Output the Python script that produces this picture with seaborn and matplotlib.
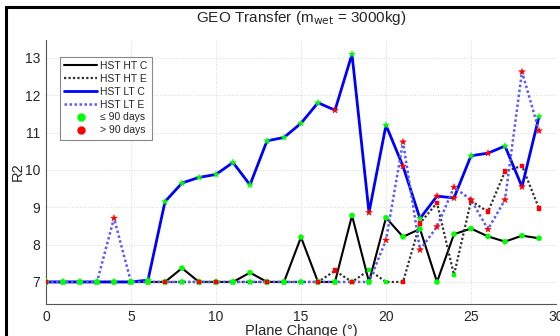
import numpy as np
import pandas as pd
import matplotlib
matplotlib.use('Agg')
import matplotlib.pyplot as plt
import seaborn as sns
from matplotlib.lines import Line2D
from matplotlib.patches import Rectangle

# plane change (deg)
plane_change = list(range(30))

# R2 values per series
ht_c = [7, 7, 7, 7, 7, 7, 7, 7, 7.37, 7, 7, 7, 7.25, 7, 7, 8.2, 7, 7, 8.78, 7,
        8.72, 8.21, 8.42, 7, 8.28, 8.43, 8.22, 8.08, 8.24, 8.17]
ht_e = [7, 7, 7, 7, 7, 7, 7, 7, 7, 7, 7, 7, 7, 7, 7, 7, 7, 7.3, 7.0, 7.32,
        7.0, 7.0, 8.57, 9.12, 7.19, 9.17, 8.88, 9.96, 10.11, 8.97]
lt_c = [7, 7, 7, 7, 7, 7, 7.05, 9.15, 9.65, 9.8, 9.88, 10.2, 9.6, 10.78, 10.87,
        11.25, 11.8, 11.6, 13.1, 8.86, 11.2, 10.1, 8.7, 9.3, 9.25, 10.38, 10.45,
        10.64, 9.55, 11.43]
lt_e = [7, 7, 7, 7, 8.71, 7, 7, 7, 7, 7, 7, 7, 7, 7, 7, 7, 7, 7, 7, 7,
        8.12, 10.75, 7.86, 8.48, 9.54, 9.2, 8.41, 9.2, 12.63, 11.05]

# 1 = transfer takes more than 90 days
ht_c_late = [0] * 30
ht_e_late = [1, 0, 0, 0, 0, 0, 0, 1, 0, 1, 1, 0, 0, 1, 0, 0, 1, 1, 1, 0,
             0, 1, 1, 1, 0, 1, 1, 1, 1, 1]
lt_c_late = [0, 0, 0, 0, 0, 0, 0, 0, 0, 0, 0, 0, 0, 0, 0, 0, 0, 1, 0, 1,
             0, 1, 0, 1, 1, 0, 1, 0, 1, 0]
lt_e_late = [0, 0, 0, 0, 1, 0, 0, 0, 0, 0, 0, 0, 0, 0, 0, 0, 0, 0, 0, 0,
             1, 1, 1, 1, 1, 1, 1, 1, 1, 1]

series_names = ['HST HT C', 'HST HT E', 'HST LT C', 'HST LT E']

df = pd.DataFrame({
    'plane': plane_change * 4,
    'R2': ht_c + ht_e + lt_c + lt_e,
    'late': ht_c_late + ht_e_late + lt_c_late + lt_e_late,
    'series': np.repeat(series_names, 30),
})

sns.set_style('white')
plt.rcParams['font.family'] = ['Liberation Sans', 'DejaVu Sans']

fig = plt.figure(figsize=(5.6, 3.36), dpi=100)
ax = fig.add_axes([46 / 560, 1 - 304 / 336, 510 / 560, 264 / 336])

line_styles = {
    'HST HT C': dict(color='black', linewidth=1.5, linestyle='-'),
    'HST HT E': dict(color='#303030', linewidth=1.6, linestyle=(0, (1, 1))),
    'HST LT C': dict(color='#0000ff', linewidth=2.0, linestyle='-'),
    'HST LT E': dict(color='#5a5aff', linewidth=1.8, linestyle=(0, (1, 1))),
}
markers = {'HST HT C': 'o', 'HST HT E': 's', 'HST LT C': '*', 'HST LT E': '*'}
marker_sizes = {'HST HT C': 14, 'HST HT E': 11, 'HST LT C': 26, 'HST LT E': 26}

for name in series_names:
    sub = df[df['series'] == name]
    sns.lineplot(data=sub, x='plane', y='R2', sort=False, ax=ax,
                 legend=False, **line_styles[name])

# markers drawn after all lines; HT E last so its red squares show on the 7 line
for name in ['HST HT C', 'HST LT C', 'HST LT E', 'HST HT E']:
    sub = df[df['series'] == name]
    cols = np.where(sub['late'] == 1, '#ff0000', '#00ff00')
    sns.scatterplot(x=sub['plane'], y=sub['R2'], marker=markers[name],
                    s=marker_sizes[name], c=cols, linewidth=0.3,
                    edgecolor=cols, ax=ax, legend=False, zorder=5)

ax.set_xlim(0, 30)
ax.set_ylim(6.41, 13.48)
ax.set_xticks([0, 5, 10, 15, 20, 25, 30])
ax.set_yticks([7, 8, 9, 10, 11, 12, 13])
ax.grid(True, color='#d8d8d8', linestyle=':', linewidth=0.7)
ax.tick_params(axis='both', labelsize=10, direction='in', length=3,
               color='#555555', pad=4)
for side in ['top', 'right']:
    ax.spines[side].set_visible(False)
for side in ['left', 'bottom']:
    ax.spines[side].set_color('#555555')
    ax.spines[side].set_linewidth(0.8)

ax.set_xlabel('Plane Change (°)', fontsize=10.5)
ax.set_ylabel('R2', fontsize=10.5)
ax.xaxis.set_label_coords(0.5, -0.075)
ax.yaxis.set_label_coords(-0.042, 0.5)

fig.text(301 / 560, 1 - 18 / 336, r'GEO Transfer (m$_{\rm wet}$ = 3000kg)',
         ha='center', va='center', fontsize=11)

handles = [
    Line2D([], [], **line_styles['HST HT C']),
    Line2D([], [], **line_styles['HST HT E']),
    Line2D([], [], **line_styles['HST LT C']),
    Line2D([], [], **line_styles['HST LT E']),
    Line2D([], [], linestyle='none', marker='o', color='#00ff00', markersize=5),
    Line2D([], [], linestyle='none', marker='o', color='#ff0000', markersize=5),
]
labels = series_names + ['≤ 90 days', '> 90 days']
leg = ax.legend(handles, labels, loc='upper left',
                bbox_to_anchor=(0.027, 0.937), borderaxespad=0,
                fontsize=7.5, handlelength=3.2, handletextpad=0.3,
                labelspacing=0.28, borderpad=0.4, fancybox=False,
                framealpha=1, edgecolor='#888888')
leg.get_frame().set_linewidth(0.8)

# black outer frame (right and bottom fall outside the image)
fig.add_artist(Rectangle((6 / 560, -0.1), 1.2, 0.1 + 1 - 7 / 336,
                         transform=fig.transFigure, fill=False,
                         edgecolor='black', linewidth=2.2))

fig.savefig('out.png', dpi=100)
